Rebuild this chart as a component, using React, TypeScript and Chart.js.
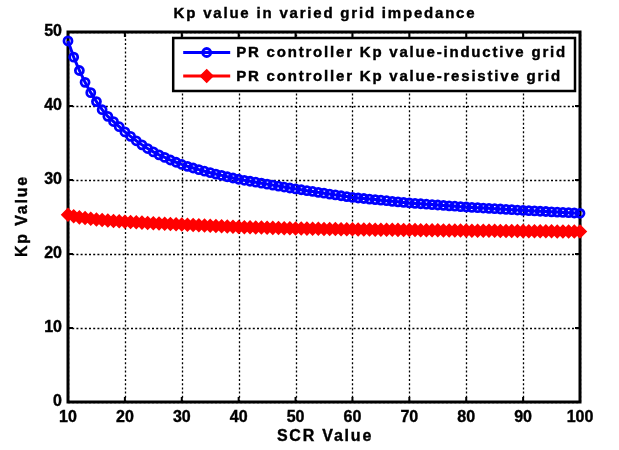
import React, { useEffect, useRef } from "react";
import { Chart, registerables } from "chart.js";

Chart.register(...registerables);

const chartTitle = "Kp value in varied grid impedance";
const xAxisTitle = "SCR Value";
const yAxisTitle = "Kp Value";
const inductiveLabel = "PR controller Kp value-inductive grid";
const resistiveLabel = "PR controller Kp value-resistive grid";

const scrValues = [
  10, 11, 12, 13, 14, 15, 16, 17, 18, 19,
  20, 21, 22, 23, 24, 25, 26, 27, 28, 29,
  30, 31, 32, 33, 34, 35, 36, 37, 38, 39,
  40, 41, 42, 43, 44, 45, 46, 47, 48, 49,
  50, 51, 52, 53, 54, 55, 56, 57, 58, 59,
  60, 61, 62, 63, 64, 65, 66, 67, 68, 69,
  70, 71, 72, 73, 74, 75, 76, 77, 78, 79,
  80, 81, 82, 83, 84, 85, 86, 87, 88, 89,
  90, 91, 92, 93, 94, 95, 96, 97, 98, 99,
  100,
];

const inductiveKp = [
  48.8, 46.6, 44.8, 43.2, 41.8, 40.6, 39.5, 38.6, 37.9, 37.2,
  36.5, 35.9, 35.3, 34.75, 34.25, 33.8, 33.4, 33.05, 32.7, 32.4,
  32.1, 31.85, 31.62, 31.4, 31.19, 30.99, 30.8, 30.62, 30.44, 30.27,
  30.1, 29.96, 29.83, 29.7, 29.57, 29.44, 29.31, 29.18, 29.05, 28.92,
  28.8, 28.68, 28.56, 28.45, 28.33, 28.22, 28.1, 27.99, 27.87, 27.76,
  27.65, 27.57, 27.5, 27.42, 27.35, 27.27, 27.2, 27.12, 27.05, 26.97,
  26.9, 26.84, 26.79, 26.73, 26.68, 26.62, 26.57, 26.51, 26.46, 26.4,
  26.35, 26.3, 26.26, 26.21, 26.17, 26.12, 26.08, 26.03, 25.99, 25.94,
  25.9, 25.86, 25.82, 25.78, 25.74, 25.7, 25.66, 25.62, 25.58, 25.54,
  25.5,
];

const resistiveKp = [
  25.3, 25.1, 24.95, 24.85, 24.75, 24.67, 24.6, 24.53, 24.47, 24.42,
  24.37, 24.32, 24.28, 24.24, 24.2, 24.16, 24.12, 24.09, 24.06, 24.03,
  24.0, 23.96, 23.92, 23.88, 23.85, 23.81, 23.78, 23.75, 23.71, 23.68,
  23.65, 23.63, 23.61, 23.59, 23.57, 23.55, 23.53, 23.51, 23.49, 23.47,
  23.45, 23.44, 23.43, 23.42, 23.4, 23.39, 23.38, 23.37, 23.36, 23.34,
  23.33, 23.32, 23.31, 23.3, 23.29, 23.28, 23.28, 23.27, 23.26, 23.25,
  23.24, 23.23, 23.22, 23.21, 23.21, 23.2, 23.19, 23.18, 23.18, 23.17,
  23.16, 23.15, 23.15, 23.14, 23.13, 23.13, 23.12, 23.11, 23.11, 23.1,
  23.09, 23.08, 23.08, 23.07, 23.07, 23.06, 23.05, 23.05, 23.04, 23.04,
  23.03,
];

const xTickValues = [10, 20, 30, 40, 50, 60, 70, 80, 90, 100];
const yTickValues = [0, 10, 20, 30, 40, 50];

const FONT = '"Liberation Sans", Arial, Helvetica, sans-serif';
const WIDE_SPACING = "1.8px";

function heavyText(ctx: any, text: string, x: number, y: number) {
  ctx.fillText(text, x, y);
  ctx.lineWidth = 0.4;
  ctx.strokeStyle = ctx.fillStyle;
  ctx.strokeText(text, x, y);
}

const framePlugin = {
  id: "matlabFrame",
  beforeDraw(chart: any) {
    (chart.ctx as any).letterSpacing = "0px";
  },
  beforeDatasetsDraw(chart: any) {
    const { ctx, chartArea, scales } = chart;
    const { left, right, top, bottom } = chartArea;
    const x = scales.x;
    const y = scales.y;
    ctx.save();
    // dotted grid
    ctx.strokeStyle = "#000";
    ctx.lineWidth = 1.3;
    ctx.setLineDash([2, 2.2]);
    ctx.beginPath();
    for (const v of xTickValues) {
      const px = Math.round(x.getPixelForValue(v)) + 0.5;
      ctx.moveTo(px, bottom);
      ctx.lineTo(px, top);
    }
    for (const v of yTickValues) {
      const py = Math.round(y.getPixelForValue(v)) + 0.5;
      ctx.moveTo(left, py);
      ctx.lineTo(right, py);
    }
    ctx.stroke();
    // inward tick marks
    ctx.setLineDash([]);
    ctx.lineWidth = 2;
    const tl = 5;
    ctx.beginPath();
    for (const v of xTickValues) {
      const px = x.getPixelForValue(v);
      ctx.moveTo(px, bottom);
      ctx.lineTo(px, bottom - tl);
      ctx.moveTo(px, top);
      ctx.lineTo(px, top + tl);
    }
    for (const v of yTickValues) {
      const py = y.getPixelForValue(v);
      ctx.moveTo(left, py);
      ctx.lineTo(left + tl, py);
      ctx.moveTo(right, py);
      ctx.lineTo(right - tl, py);
    }
    ctx.stroke();
    // axes box
    ctx.lineWidth = 3;
    ctx.strokeRect(left, top, right - left, bottom - top);

    // titles
    ctx.fillStyle = "#000";
    (ctx as any).letterSpacing = WIDE_SPACING;
    ctx.textAlign = "center";
    ctx.textBaseline = "middle";
    ctx.font = `bold 15px ${FONT}`;
    heavyText(ctx, chartTitle, (left + right) / 2 + 1, 13.5);
    ctx.font = `bold 16px ${FONT}`;
    heavyText(ctx, xAxisTitle, (left + right) / 2 + 1, 437);
    ctx.save();
    ctx.translate(23, (top + bottom) / 2);
    ctx.rotate(-Math.PI / 2);
    heavyText(ctx, yAxisTitle, 1, 0);
    ctx.restore();
    ctx.restore();
  },
  afterDatasetsDraw(chart: any) {
    const { ctx, chartArea } = chart;
    const datasets = chart.data.datasets;
    ctx.save();
    (ctx as any).letterSpacing = WIDE_SPACING;
    ctx.font = `bold 15px ${FONT}`;
    const textW = Math.max(
      ...datasets.map((d: any) => ctx.measureText(d.label).width)
    );
    const padL = 10;
    const lineLen = 47;
    const gap = 6;
    const padR = 8;
    const boxW = padL + lineLen + gap + textW + padR;
    const boxH = 53;
    const boxRight = chartArea.right - 5;
    const boxTop = chartArea.top + 6;
    const boxLeft = boxRight - boxW;
    ctx.fillStyle = "#fff";
    ctx.fillRect(boxLeft, boxTop, boxW, boxH);
    ctx.strokeStyle = "#000";
    ctx.lineWidth = 2.5;
    ctx.setLineDash([]);
    ctx.strokeRect(boxLeft, boxTop, boxW, boxH);

    datasets.forEach((d: any, i: number) => {
      const cy = boxTop + 14.5 + i * 23.5;
      const x0 = boxLeft + padL;
      const x1 = x0 + lineLen;
      const cx = (x0 + x1) / 2;
      ctx.strokeStyle = d.borderColor;
      ctx.lineWidth = 3;
      ctx.beginPath();
      ctx.moveTo(x0, cy);
      ctx.lineTo(x1, cy);
      ctx.stroke();
      if (d.pointStyle === "circle") {
        ctx.lineWidth = d.pointBorderWidth;
        ctx.beginPath();
        ctx.arc(cx, cy, d.pointRadius, 0, Math.PI * 2);
        ctx.stroke();
      } else {
        const r = d.pointRadius;
        ctx.fillStyle = d.pointBackgroundColor;
        ctx.lineWidth = 1.5;
        ctx.beginPath();
        ctx.moveTo(cx, cy - r);
        ctx.lineTo(cx + r, cy);
        ctx.lineTo(cx, cy + r);
        ctx.lineTo(cx - r, cy);
        ctx.closePath();
        ctx.fill();
        ctx.stroke();
      }
      ctx.fillStyle = "#000";
      ctx.textAlign = "left";
      ctx.textBaseline = "middle";
      heavyText(ctx, d.label, x1 + gap, cy + 0.5);
    });
    ctx.restore();
  },
};

export default function App() {
  const canvasRef = useRef<HTMLCanvasElement | null>(null);

  useEffect(() => {
    document.body.style.margin = "0";
    const canvas = canvasRef.current;
    if (!canvas) return;

    const tickFont = { family: FONT, size: 16, weight: "bold" };

    const chart = new Chart(canvas, {
      type: "line",
      data: {
        datasets: [
          {
            label: inductiveLabel,
            data: scrValues.map((s, i) => ({ x: s, y: inductiveKp[i] })),
            borderColor: "#0000ff",
            borderWidth: 3,
            pointStyle: "circle",
            pointRadius: 4,
            pointBorderWidth: 2.8,
            pointBorderColor: "#0000ff",
            pointBackgroundColor: "rgba(0,0,255,0)",
            tension: 0,
            clip: false,
          } as any,
          {
            label: resistiveLabel,
            data: scrValues.map((s, i) => ({ x: s, y: resistiveKp[i] })),
            borderColor: "#ff0000",
            borderWidth: 3,
            pointStyle: "rectRot",
            pointRadius: 6.2,
            pointBorderWidth: 1.5,
            pointBorderColor: "#ff0000",
            pointBackgroundColor: "#ff0000",
            tension: 0,
            clip: false,
          } as any,
        ],
      },
      options: {
        responsive: false,
        animation: false,
        devicePixelRatio: 1,
        layout: { padding: { left: 0, right: 39, top: 32, bottom: 0 } },
        plugins: {
          legend: { display: false },
          tooltip: { enabled: false },
          title: { display: false },
        },
        scales: {
          x: {
            type: "linear",
            min: 10,
            max: 100,
            afterFit: (scale: any) => {
              scale.height = 48;
              scale.paddingLeft = 0;
              scale.paddingRight = 0;
            },
            afterBuildTicks: (scale: any) => {
              scale.ticks = xTickValues.map((v) => ({ value: v }));
            },
            ticks: {
              autoSkip: false,
              maxRotation: 0,
              color: "#000",
              padding: 6,
              textStrokeColor: "#000",
              textStrokeWidth: 0.4,
              font: tickFont,
            },
            grid: { display: false, drawTicks: false },
            border: { display: false },
            title: { display: false },
          },
          y: {
            type: "linear",
            min: 0,
            max: 50,
            afterFit: (scale: any) => {
              scale.width = 68;
              scale.paddingTop = 0;
              scale.paddingBottom = 0;
            },
            afterBuildTicks: (scale: any) => {
              scale.ticks = yTickValues.map((v) => ({ value: v }));
            },
            ticks: {
              color: "#000",
              padding: 6,
              textStrokeColor: "#000",
              textStrokeWidth: 0.4,
              font: tickFont,
            },
            grid: { display: false, drawTicks: false },
            border: { display: false },
            title: { display: false },
          },
        },
      } as any,
      plugins: [framePlugin],
    });

    return () => {
      chart.destroy();
    };
  }, []);

  return (
    <canvas
      ref={canvasRef}
      width={619}
      height={450}
      style={{ display: "block", width: 619, height: 450 }}
    />
  );
}
